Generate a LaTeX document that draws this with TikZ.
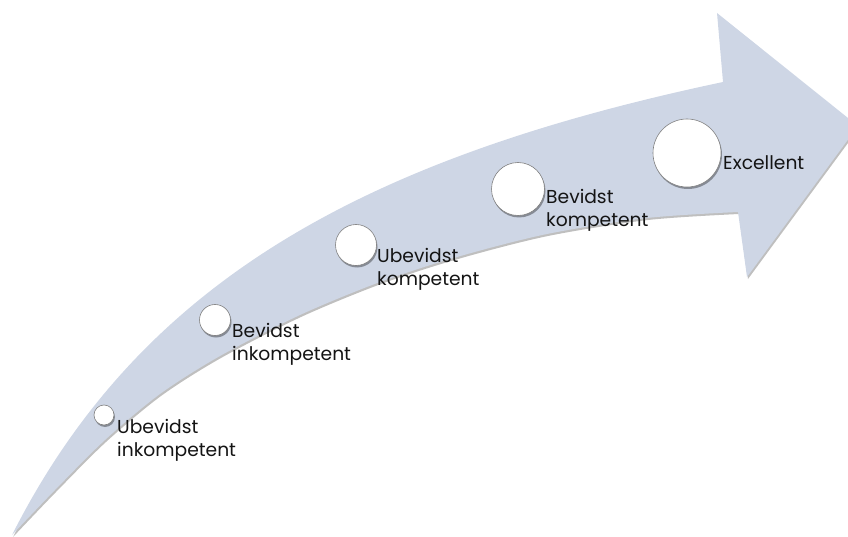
\documentclass[tikz,border=0pt]{standalone}
\usepackage{fontspec}
\setmainfont{Poppins}
\usetikzlibrary{shadows}
\definecolor{arrowfill}{RGB}{206,214,229}
\definecolor{ringgray}{RGB}{128,128,128}
\definecolor{txt}{RGB}{20,20,20}
\begin{document}
\begin{tikzpicture}[x=1pt,y=-1pt,
  stage/.style={circle, fill=white, draw=ringgray, line width=0.6pt, inner sep=0pt,
    drop shadow={shadow xshift=1pt, shadow yshift=-2pt, opacity=0.35, fill=black}},
  lbl/.style={anchor=base west, align=left, inner sep=0pt,
    font=\fontsize{18.7}{23}\selectfont, text=txt}]
\useasboundingbox (0,0) rectangle (848,537);
\clip (0,0) rectangle (848,537);
\def\arrowpath{(12,535) .. controls (140,282) and (363,158) .. (723,82)
  -- (717,13) -- (858,126) -- (747,277) -- (738,212)
  -- plot[smooth] coordinates {(738,212) (647,218) (547,234) (457,257) (380,282) (300,315) (220,356) (160,394) (105,440) (55,490) (12,535)}
  -- cycle}
% shadow of the arrow
\fill[black, opacity=0.25, shift={(1,2)}] \arrowpath;
% the arrow
\fill[arrowfill] \arrowpath;
% stages
\node[stage, minimum size=20pt] (s1) at (104,415) {};
\node[stage, minimum size=31pt] (s2) at (215,320) {};
\node[stage, minimum size=41pt] (s3) at (356,245) {};
\node[stage, minimum size=53pt] (s4) at (518,189) {};
\node[stage, minimum size=68pt] (s5) at (687,153) {};
% labels (base anchor = last line)
\node[lbl] (l1) at (117,456) {Ubevidst\\inkompetent};
\node[lbl] (l2) at (232,360) {Bevidst\\inkompetent};
\node[lbl] (l3) at (377,285) {Ubevidst\\kompetent};
\node[lbl] (l4) at (546,227) {Bevidst\\kompetent};
\node[lbl] (l5) at (723,170) {Excellent};
\end{tikzpicture}
\end{document}
